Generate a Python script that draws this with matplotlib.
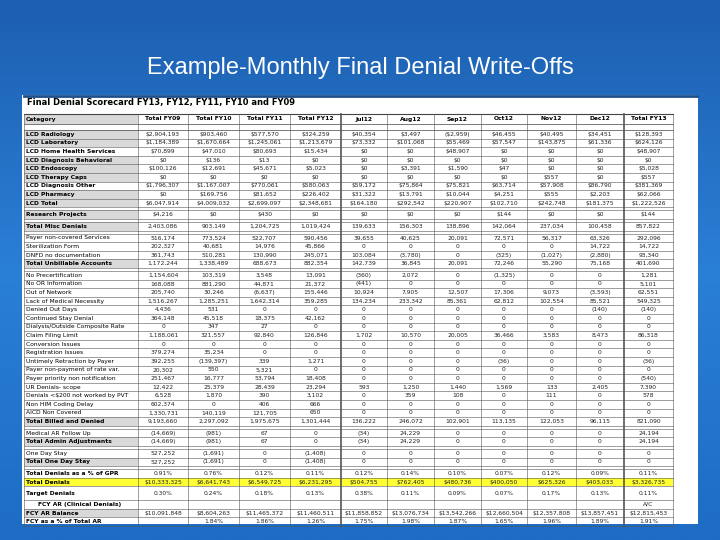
import matplotlib
matplotlib.use("Agg")
import matplotlib.pyplot as plt
import numpy as np
from matplotlib.patches import Rectangle

title = "Example-Monthly Final Denial Write-Offs"
table_title = "Final Denial Scorecard FY13, FY12, FY11, FY10 and FY09"
columns = ["Category", "Total FY09", "Total FY10", "Total FY11", "Total FY12", "Jul12", "Aug12",
           "Sep12", "Oct12", "Nov12", "Dec12", "Total FY13"]

categories = [
    "LCD Radiology", "LCD Laboratory", "LCD Home Health Services", "LCD Diagnosis Behavioral",
    "LCD Endoscopy", "LCD Therapy Caps", "LCD Diagnosis Other", "LCD Pharmacy", "LCD Total",
    "Research Projects", "Total Misc Denials", "Payer non-covered Services", "Sterilization Form",
    "DNFD no documentation", "Total Unbillable Accounts", "No Precertification", "No OR Information",
    "Out of Network", "Lack of Medical Necessity", "Denied Out Days", "Continued Stay Denial",
    "Dialysis/Outside Composite Rate", "Claim Filing Limit", "Conversion Issues",
    "Registration Issues", "Untimely Retraction by Payer", "Payer non-payment of rate var.",
    "Payer priority non notification", "UR Denials- scope", "Denials <$200 not worked by PVT",
    "Non HIM Coding Delay", "AICD Non Covered", "Total Billed and Denied", "Medical AR Follow Up",
    "Total Admin Adjustments", "One Day Stay", "Total One Day Stay", "Total Denials as a % of GPR",
    "Total Denials", "Target Denials", "FCY AR (Clinical Denials)", "FCY AR Balance",
    "FCY as a % of Total AR"]

values = [
    ["$2,904,193", "$903,460", "$577,570", "$324,259", "$40,354", "$3,497", "($2,959)", "$46,455", "$40,495", "$34,451", "$128,393"],
    ["$1,184,389", "$1,670,664", "$1,245,061", "$1,213,679", "$73,332", "$101,068", "$55,469", "$57,547", "$143,875", "$61,336", "$624,126"],
    ["$70,899", "$47,010", "$80,693", "$15,434", "$0", "$0", "$48,907", "$0", "$0", "$0", "$48,907"],
    ["$0", "$136", "$13", "$0", "$0", "$0", "$0", "$0", "$0", "$0", "$0"],
    ["$100,126", "$12,691", "$45,671", "$5,023", "$0", "$3,391", "$1,590", "$47", "$0", "$0", "$5,028"],
    ["$0", "$0", "$0", "$0", "$0", "$0", "$0", "$0", "$557", "$0", "$557"],
    ["$1,796,307", "$1,167,007", "$770,061", "$580,063", "$59,172", "$75,864", "$75,821", "$63,714", "$57,908", "$86,790", "$381,369"],
    ["$0", "$169,756", "$81,652", "$226,402", "$31,322", "$13,791", "$10,044", "$4,251", "$555", "$2,203", "$62,066"],
    ["$6,047,914", "$4,009,032", "$2,699,097", "$2,348,681", "$164,180", "$292,542", "$220,907", "$102,710", "$242,748", "$181,375", "$1,222,526"],
    ["$4,216", "$0", "$430", "$0", "$0", "$0", "$0", "$144", "$0", "$0", "$144"],
    ["2,403,086", "903,149", "1,204,725", "1,019,424", "139,633", "156,303", "138,896", "142,064", "237,034", "100,458", "857,822"],
    ["516,174", "773,524", "522,707", "590,456", "39,655", "40,625", "20,091", "72,571", "56,317", "63,326", "292,096"],
    ["202,327", "40,681", "14,976", "45,866", "0", "0", "0", "0", "0", "14,722", "14,722"],
    ["361,743", "510,281", "130,990", "245,071", "103,084", "(3,780)", "0", "(325)", "(1,027)", "(2,880)", "93,340"],
    ["1,172,244", "1,338,489", "688,673", "882,354", "142,739", "36,845", "20,091", "72,246", "55,290", "75,168", "401,690"],
    ["1,154,604", "103,319", "3,548", "13,091", "(360)", "2,072", "0", "(1,325)", "0", "0", "1,281"],
    ["168,088", "881,290", "44,871", "21,372", "(441)", "0", "0", "0", "0", "0", "5,101"],
    ["205,740", "30,246", "(6,637)", "155,446", "10,924", "7,905", "12,507", "17,306", "9,073", "(3,593)", "62,551"],
    ["1,516,267", "1,285,251", "1,642,314", "359,285", "134,234", "233,342", "85,361", "62,812", "102,554", "85,521", "549,325"],
    ["4,436", "531", "0", "0", "0", "0", "0", "0", "0", "(140)", "(140)"],
    ["364,148", "45,518", "18,375", "42,162", "0", "0", "0", "0", "0", "0", "0"],
    ["0", "347", "27", "0", "0", "0", "0", "0", "0", "0", "0"],
    ["1,188,061", "321,557", "92,840", "126,846", "1,702", "10,570", "20,005", "36,466", "3,583", "8,473", "86,318"],
    ["0", "0", "0", "0", "0", "0", "0", "0", "0", "0", "0"],
    ["379,274", "35,234", "0", "0", "0", "0", "0", "0", "0", "0", "0"],
    ["392,255", "(139,397)", "339", "1,271", "0", "0", "0", "(36)", "0", "0", "(36)"],
    ["20,302", "550", "5,321", "0", "0", "0", "0", "0", "0", "0", "0"],
    ["251,467", "16,777", "53,794", "18,408", "0", "0", "0", "0", "0", "0", "(540)"],
    ["12,422", "25,379", "28,439", "23,294", "593", "1,250", "1,440", "1,569", "133", "2,405", "7,390"],
    ["6,528", "1,870", "390", "3,102", "0", "359", "108", "0", "111", "0", "578"],
    ["602,374", "0", "406", "666", "0", "0", "0", "0", "0", "0", "0"],
    ["1,330,731", "140,119", "121,705", "650", "0", "0", "0", "0", "0", "0", "0"],
    ["9,193,660", "2,297,092", "1,975,675", "1,301,444", "136,222", "246,072", "102,901", "113,135", "122,053", "96,115", "821,090"],
    ["(14,669)", "(981)", "67", "0", "(34)", "24,229", "0", "0", "0", "0", "24,194"],
    ["(14,669)", "(981)", "67", "0", "(34)", "24,229", "0", "0", "0", "0", "24,194"],
    ["527,252", "(1,691)", "0", "(1,408)", "0", "0", "0", "0", "0", "0", "0"],
    ["527,252", "(1,691)", "0", "(1,408)", "0", "0", "0", "0", "0", "0", "0"],
    ["0.91%", "0.76%", "0.12%", "0.11%", "0.12%", "0.14%", "0.10%", "0.07%", "0.12%", "0.09%", "0.11%"],
    ["$10,333,325", "$6,641,743", "$6,549,725", "$6,231,295", "$504,755", "$762,405", "$480,736", "$400,050", "$625,326", "$403,033", "$3,326,735"],
    ["0.30%", "0.24%", "0.18%", "0.13%", "0.38%", "0.11%", "0.09%", "0.07%", "0.17%", "0.13%", "0.11%"],
    ["", "", "", "", "", "", "", "", "", "", "A/C"],
    ["$10,091,848", "$8,604,263", "$11,465,372", "$11,460,511", "$11,858,852", "$13,076,734", "$13,542,266", "$12,660,504", "$12,357,808", "$13,857,451", "$12,815,453"],
    ["", "1.84%", "1.86%", "1.26%", "1.75%", "1.98%", "1.87%", "1.65%", "1.96%", "1.89%", "1.91%"],
]

shaded = {"LCD Radiology", "LCD Laboratory", "LCD Diagnosis Behavioral", "LCD Endoscopy",
          "LCD Therapy Caps", "LCD Pharmacy", "LCD Total", "Research Projects", "Total Misc Denials",
          "Total Unbillable Accounts", "Total Billed and Denied", "Total Admin Adjustments",
          "Total One Day Stay", "FCY AR Balance"}
bold_rows = shaded | {"LCD Home Health Services", "LCD Diagnosis Other", "Target Denials",
                      "Total Denials", "Total Denials as a % of GPR", "FCY AR (Clinical Denials)",
                      "FCY as a % of Total AR"}
gap_after = {"LCD Total", "Research Projects", "Total Misc Denials", "Total Unbillable Accounts",
             "Total Billed and Denied", "Total Admin Adjustments", "Total One Day Stay"}

fig = plt.figure(figsize=(7.2, 5.4), dpi=100)
ax = fig.add_axes([0, 0, 1, 1])
ax.set_xlim(0, 720); ax.set_ylim(540, 0); ax.axis("off")

# slide background gradient
grad = np.linspace(0, 1, 256).reshape(-1, 1)
from matplotlib.colors import LinearSegmentedColormap
cmap = LinearSegmentedColormap.from_list("bg", ["#1d5fb0", "#2a7fd6", "#1e6cc4"])
ax.imshow(grad, extent=[0, 720, 540, 0], cmap=cmap, aspect="auto", zorder=0)
ax.text(360, 68, title, color="white", fontsize=17, ha="center", va="center", family="Liberation Sans")

# table panel
ax.add_patch(Rectangle((22, 95), 676, 429, facecolor="white", edgecolor="none", zorder=1))
ax.text(27, 103, table_title, fontsize=6, fontweight="bold", ha="left", va="center", zorder=3)
ax.plot([24, 697], [96, 96], color="#1c4f8c", lw=2, zorder=2)

xb = [24, 138, 188, 239, 290, 341, 387, 434, 481, 527, 576, 624, 673]
fs = 4.3
# header
hy0, hy1 = 114, 124
ax.plot([xb[0], xb[-1]], [hy0, hy0], color="#444", lw=0.8, zorder=3)
ax.add_patch(Rectangle((xb[0], hy0), xb[1] - xb[0], hy1 - hy0, facecolor="#d9d9d9", edgecolor="none", zorder=2))
for j, c in enumerate(columns):
    x = xb[0] + 2 if j == 0 else (xb[j] + xb[j + 1]) / 2
    ax.text(x, (hy0 + hy1) / 2, c, fontsize=fs, fontweight="bold", ha="left" if j == 0 else "center",
            va="center", zorder=3)

y = 130
h = 8.6
ax.plot([xb[0], xb[-1]], [hy1, hy1], color="#444", lw=0.5, zorder=3)
ax.plot([xb[0], xb[-1]], [y, y], color="#444", lw=0.5, zorder=3)
for cat, vals in zip(categories, values):
    rh = h * 1.6 if cat == "Target Denials" else h
    if cat == "Total Denials":
        ax.add_patch(Rectangle((xb[0], y), xb[-1] - xb[0], rh, facecolor="#ffff33", edgecolor="none", zorder=2))
    elif cat in shaded:
        ax.add_patch(Rectangle((xb[0], y), xb[1] - xb[0], rh, facecolor="#d9d9d9", edgecolor="none", zorder=2))
    cy = y + rh / 2
    indent = 14 if cat == "FCY AR (Clinical Denials)" else 2
    ax.text(xb[0] + indent, cy, cat, fontsize=fs, ha="left", va="center", zorder=3,
            fontweight="bold" if cat in bold_rows else "normal")
    for j, v in enumerate(vals):
        ax.text((xb[j + 1] + xb[j + 2]) / 2, cy, v, fontsize=fs, ha="center", va="center",
                color="#222", zorder=3)
    y += rh
    ax.plot([xb[0], xb[-1]], [y, y], color="#555", lw=0.4, zorder=3)
    if cat in gap_after:
        y += 3
        ax.plot([xb[0], xb[-1]], [y, y], color="#555", lw=0.4, zorder=3)
ybot = y
for j, x in enumerate(xb):
    ax.plot([x, x], [hy0, ybot], color="#555", lw=1.2 if j in (5, 11) else 0.4, zorder=3)

fig.savefig("out.png", dpi=100)
